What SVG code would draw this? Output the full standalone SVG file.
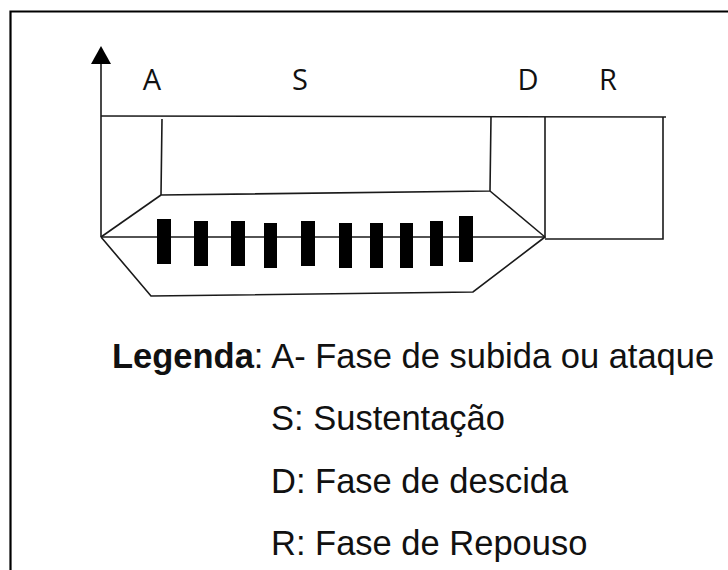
<svg xmlns="http://www.w3.org/2000/svg" width="728" height="570" viewBox="0 0 728 570">
<style>
.ln{fill:none;stroke:#1a1a1a;stroke-width:1.6;stroke-linejoin:miter}
.bar{fill:#000}
.lab{font-family:"Open Sans","Liberation Sans",sans-serif;font-size:29px;fill:#111}
.leg{font-family:"Liberation Sans",Arial,sans-serif;font-size:34.5px;fill:#111}
.b{font-weight:bold}
</style>
<rect width="728" height="570" fill="#fff"/>
<g id="frame">
<path d="M10.5,570 V11.5 H728" fill="none" stroke="#000" stroke-width="2.2"/>
</g>
<g id="connectors">
<line class="ln" x1="101" y1="237" x2="101" y2="62"/>
<polygon points="101,46 91,64 111,64" fill="#000"/>
<polyline class="ln" points="101,116 666,117"/>
<polyline class="ln" points="162,119 161,195 490,191 491,117"/>
<line class="ln" x1="101" y1="237" x2="161" y2="195"/>
<line class="ln" x1="490" y1="191" x2="545" y2="237"/>
<line class="ln" x1="101" y1="237" x2="545" y2="237"/>
<polyline class="ln" points="101,237 151,296 473,292 545,237"/>
<line class="ln" x1="545" y1="117" x2="545" y2="238"/>
<polyline class="ln" points="545,239 663,239 663,117"/>
</g>
<g id="bars">
<rect class="bar" x="157" y="219" width="14" height="45"/>
<rect class="bar" x="194" y="221" width="14" height="45"/>
<rect class="bar" x="231" y="221" width="14" height="45"/>
<rect class="bar" x="264" y="223" width="13" height="45"/>
<rect class="bar" x="301" y="221" width="14" height="45"/>
<rect class="bar" x="339" y="223" width="13" height="45"/>
<rect class="bar" x="370" y="223" width="13" height="45"/>
<rect class="bar" x="400" y="223" width="13" height="45"/>
<rect class="bar" x="430" y="221" width="13" height="45"/>
<rect class="bar" x="459" y="216" width="14" height="46"/>
</g>
<g id="labels">
<text class="lab" x="152" y="90" text-anchor="middle">A</text>
<text class="lab" x="300" y="90" text-anchor="middle">S</text>
<text class="lab" x="528" y="90" text-anchor="middle">D</text>
<text class="lab" x="608" y="90" text-anchor="middle">R</text>
</g>
<g id="legend">
<text class="leg" x="112" y="368"><tspan class="b">Legenda</tspan>: A- Fase de subida ou ataque</text>
<text class="leg" x="271" y="430">S: Sustentação</text>
<text class="leg" x="271" y="493">D: Fase de descida</text>
<text class="leg" x="271" y="555">R: Fase de Repouso</text>
</g>
</svg>
